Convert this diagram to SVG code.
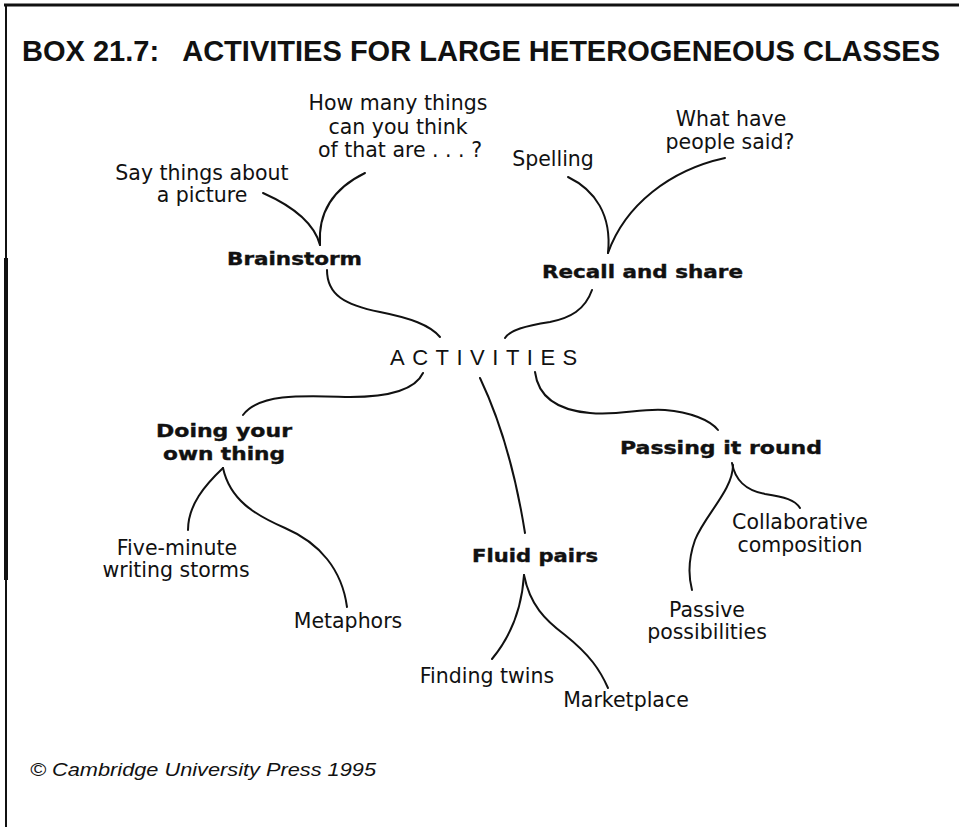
<svg xmlns="http://www.w3.org/2000/svg" width="959" height="827" viewBox="0 0 959 827">
<style>
.reg{font-family:"DejaVu Sans","Liberation Sans",sans-serif;font-size:20.5px;fill:#111;text-anchor:middle}
.bold{font-family:"DejaVu Sans","Liberation Sans",sans-serif;font-weight:bold;font-size:18.5px;fill:#111;text-anchor:start;stroke:#111;stroke-width:0.4}
.title{font-family:"Liberation Sans",Arial,sans-serif;font-weight:bold;font-size:29px;fill:#111}
.center{font-family:"Liberation Sans",Arial,sans-serif;font-size:22px;fill:#111;letter-spacing:7.5px}
.foot{font-family:"Liberation Sans",Arial,sans-serif;font-style:italic;font-size:19px;fill:#111}
.c{fill:none;stroke:#111;stroke-width:2;stroke-linecap:round}
</style>
<rect width="959" height="827" fill="#fff"/>
<g id="frame">
<line x1="4" y1="5" x2="959" y2="5" stroke="#111" stroke-width="3"/>
<line x1="6" y1="4" x2="6" y2="827" stroke="#111" stroke-width="2"/>
<line x1="6" y1="258" x2="6" y2="580" stroke="#111" stroke-width="4"/>
</g>
<g id="title"><text class="title" x="22" y="61" textLength="918" lengthAdjust="spacingAndGlyphs" xml:space="preserve">BOX 21.7:   ACTIVITIES FOR LARGE HETEROGENEOUS CLASSES</text></g>
<g id="connectors">
<path class="c" d="M320,245 C318,215 330,190 365,173"/>
<path class="c" d="M263,193 C290,205 314,222 320,245"/>
<path class="c" d="M327,270 C327,295 345,305 380,312 C410,318 430,325 440,337"/>
<path class="c" d="M568,177 C595,190 612,215 608,253"/>
<path class="c" d="M725,158 C670,170 625,205 608,253"/>
<path class="c" d="M592,290 C585,310 570,318 550,322 C525,326 510,330 505,338"/>
<path class="c" d="M423,373 C415,390 390,397 350,397 C310,396 260,392 243,415"/>
<path class="c" d="M223,468 C205,485 188,505 188,530"/>
<path class="c" d="M223,468 C230,500 255,515 285,528 C320,543 342,570 347,607"/>
<path class="c" d="M480,378 C500,420 515,470 525,533"/>
<path class="c" d="M524,575 C522,605 512,635 492,659"/>
<path class="c" d="M524,575 C530,605 545,620 565,635 C590,655 600,670 608,688"/>
<path class="c" d="M535,372 C538,395 555,410 590,413 C620,416 640,408 665,410 C690,412 710,420 718,430"/>
<path class="c" d="M732,463 C735,480 745,490 765,494 C785,497 795,500 800,508"/>
<path class="c" d="M733,465 C733,490 705,515 695,540 C688,560 688,575 692,590"/>
</g>
<g id="activities"><text class="center" x="390" y="365">ACTIVITIES</text></g>
<g id="brainstorm"><text class="bold" x="227" y="265" textLength="135" lengthAdjust="spacingAndGlyphs">Brainstorm</text></g>
<g id="how-many"><text class="reg" x="398" y="110">How many things</text><text class="reg" x="398" y="134">can you think</text><text class="reg" x="400" y="157">of that are . . . ?</text></g>
<g id="say-things"><text class="reg" x="202" y="180">Say things about</text><text class="reg" x="202" y="202">a picture</text></g>
<g id="recall"><text class="bold" x="542" y="278" textLength="201" lengthAdjust="spacingAndGlyphs">Recall and share</text></g>
<g id="spelling"><text class="reg" x="553" y="166">Spelling</text></g>
<g id="what-have"><text class="reg" x="731" y="126">What have</text><text class="reg" x="730" y="149">people said?</text></g>
<g id="doing"><text class="bold" x="156" y="437" textLength="136" lengthAdjust="spacingAndGlyphs">Doing your</text><text class="bold" x="163" y="460" textLength="122" lengthAdjust="spacingAndGlyphs">own thing</text></g>
<g id="five-minute"><text class="reg" x="177" y="555">Five-minute</text><text class="reg" x="176" y="577">writing storms</text></g>
<g id="metaphors"><text class="reg" x="348" y="628">Metaphors</text></g>
<g id="fluid"><text class="bold" x="472" y="562" textLength="126" lengthAdjust="spacingAndGlyphs">Fluid pairs</text></g>
<g id="finding"><text class="reg" x="487" y="683">Finding twins</text></g>
<g id="marketplace"><text class="reg" x="626" y="707">Marketplace</text></g>
<g id="passing"><text class="bold" x="620" y="454" textLength="202" lengthAdjust="spacingAndGlyphs">Passing it round</text></g>
<g id="collab"><text class="reg" x="800" y="529">Collaborative</text><text class="reg" x="800" y="552">composition</text></g>
<g id="passive"><text class="reg" x="707" y="617">Passive</text><text class="reg" x="707" y="639">possibilities</text></g>
<g id="footer"><text class="foot" x="30" y="776" textLength="346" lengthAdjust="spacingAndGlyphs">© Cambridge University Press 1995</text></g>
</svg>
